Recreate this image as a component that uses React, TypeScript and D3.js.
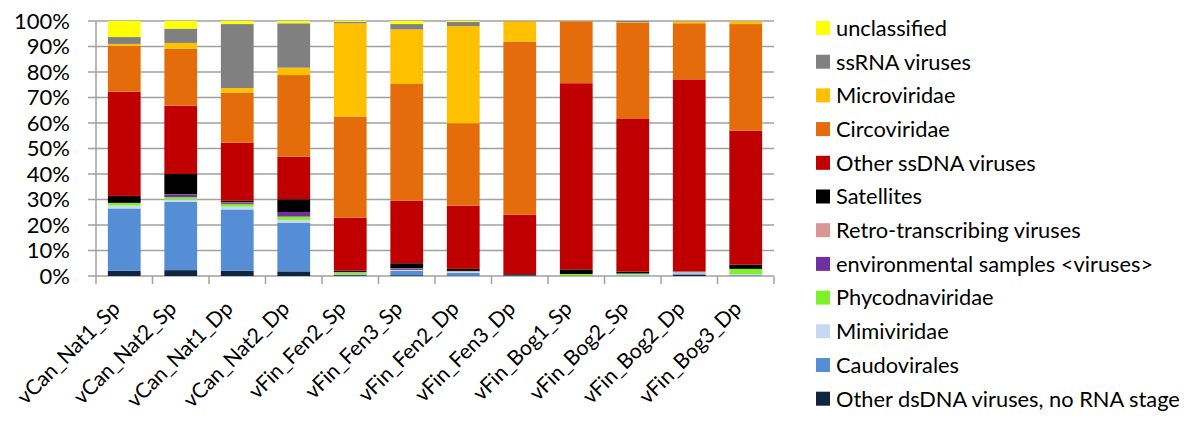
import React from "react";
import * as d3 from "d3";

const categories = [
  "vCan_Nat1_Sp", "vCan_Nat2_Sp", "vCan_Nat1_Dp", "vCan_Nat2_Dp",
  "vFin_Fen2_Sp", "vFin_Fen3_Sp", "vFin_Fen2_Dp", "vFin_Fen3_Dp",
  "vFin_Bog1_Sp", "vFin_Bog2_Sp", "vFin_Bog2_Dp", "vFin_Bog3_Dp",
];

// values in percent, bottom of stack first
const otherDsDNA = [2.1, 2.3, 2.1, 1.8, 0.3, 0.3, 0.2, 0.3, 0.1, 0.1, 0.5, 0.1];
const caudovirales = [24.4, 26.8, 24.0, 19.1, 0.3, 1.7, 1.0, 0.1, 0.1, 0.1, 0.5, 0.2];
const mimiviridae = [1.1, 0.9, 1.1, 1.1, 0.0, 0.3, 0.5, 0.0, 0.0, 0.3, 0.3, 0.4];
const phycodnaviridae = [1.0, 0.9, 1.0, 1.3, 0.8, 0.1, 0.1, 0.0, 0.6, 0.5, 0.1, 2.1];
const envSamples = [0.1, 1.0, 0.4, 1.8, 0.1, 0.4, 0.1, 0.0, 0.0, 0.0, 0.1, 0.0];
const retroTranscribing = [0.0, 0.1, 0.3, 0.0, 0.1, 0.2, 0.1, 0.0, 0.0, 0.0, 0.2, 0.0];
const satellites = [2.7, 8.0, 0.6, 5.0, 0.5, 2.0, 0.8, 0.3, 1.8, 0.7, 0.1, 1.7];
const otherSsDNA = [40.9, 26.8, 22.8, 16.7, 20.8, 24.5, 24.8, 23.3, 73.0, 60.1, 75.3, 52.5];
const circoviridae = [18.0, 22.3, 19.6, 32.0, 39.6, 45.8, 32.3, 67.9, 24.3, 37.5, 22.0, 41.8];
const microviridae = [0.7, 2.3, 1.8, 2.9, 36.6, 21.4, 38.1, 8.0, 0.1, 0.2, 0.8, 1.0];
const ssRNA = [2.7, 5.6, 25.1, 17.4, 0.5, 2.1, 1.6, 0.1, 0.0, 0.5, 0.1, 0.1];
const unclassified = [6.3, 3.0, 1.2, 0.9, 0.4, 1.2, 0.4, 0.0, 0.0, 0.0, 0.0, 0.1];

const seriesNames = [
  "Other dsDNA viruses, no RNA stage",
  "Caudovirales",
  "Mimiviridae",
  "Phycodnaviridae",
  "environmental samples <viruses>",
  "Retro-transcribing viruses",
  "Satellites",
  "Other ssDNA viruses",
  "Circoviridae",
  "Microviridae",
  "ssRNA viruses",
  "unclassified",
];
const seriesValues = [
  otherDsDNA, caudovirales, mimiviridae, phycodnaviridae, envSamples,
  retroTranscribing, satellites, otherSsDNA, circoviridae, microviridae,
  ssRNA, unclassified,
];
const seriesColors = [
  "#10253F", "#558ED5", "#C6D9F1", "#7FF02A", "#7030A0", "#D99694",
  "#000000", "#C00000", "#E46C0A", "#FFC000", "#808080", "#FFFF00",
];
const yTicks = [0, 0.1, 0.2, 0.3, 0.4, 0.5, 0.6, 0.7, 0.8, 0.9, 1.0];

const FONT = "Lato, 'Open Sans', sans-serif";

export default function App() {
  const W = 1186, H = 423;
  const left = 96, right = 774, top = 21, bottom = 276;

  const table = categories.map((c, i) => {
    const row: any = { category: c };
    seriesNames.forEach((s, j) => (row[s] = seriesValues[j][i]));
    return row;
  });
  const stacked = d3.stack<any>().keys(seriesNames).offset(d3.stackOffsetExpand)(table);

  const x = d3.scaleBand().domain(categories).range([left, right]).paddingInner(0.42).paddingOuter(0.21);
  const y = d3.scaleLinear().domain([0, 1]).range([bottom, top]);
  const step = x.step();
  const boundaries = d3.range(categories.length + 1).map((i) => left + i * step);

  const legendOrder = seriesNames.map((_, i) => seriesNames.length - 1 - i);

  return (
    <svg width={W} height={H} style={{ position: "absolute", left: 0, top: 0, background: "#fff" }} fontFamily={FONT}>
      {/* gridlines */}
      {yTicks.map((t) => (
        <line key={t} x1={left - 8} x2={right} y1={y(t)} y2={y(t)} stroke="#a0a0a0" strokeWidth={1.5} />
      ))}
      {/* y axis line */}
      <line x1={left} x2={left} y1={top} y2={bottom} stroke="#a0a0a0" strokeWidth={1.5} />
      {/* x ticks */}
      {boundaries.map((b, i) => (
        <line key={i} x1={b} x2={b} y1={bottom} y2={bottom + 8} stroke="#a0a0a0" strokeWidth={1.5} />
      ))}
      {/* bars */}
      {stacked.map((layer, j) => (
        <g key={layer.key} fill={seriesColors[j]}>
          {layer.map((d, i) => (
            <rect key={i} x={x(categories[i])} width={x.bandwidth()} y={y(d[1])} height={Math.max(0, y(d[0]) - y(d[1]))} />
          ))}
        </g>
      ))}
      {/* y labels */}
      {yTicks.map((t) => (
        <text key={t} x={70} y={y(t)} dy="0.36em" textAnchor="end" fontSize={22} fill="#000">
          {d3.format(".0%")(t)}
        </text>
      ))}
      {/* x labels */}
      {categories.map((c) => {
        const cx = (x(c) as number) + x.bandwidth() / 2 - 3;
        const cy = 310;
        return (
          <text key={c} x={cx} y={cy} textAnchor="end" fontSize={21} fill="#000" transform={`rotate(-45, ${cx}, ${cy})`}>
            {c}
          </text>
        );
      })}
      {/* legend */}
      {legendOrder.map((j, k) => {
        const cy = 28 + k * 33.7;
        return (
          <g key={seriesNames[j]}>
            <rect x={816} y={cy - 7} width={14} height={14} fill={seriesColors[j]} />
            <text x={836} y={cy} dy="0.36em" fontSize={21.8} fill="#000">{seriesNames[j]}</text>
          </g>
        );
      })}
    </svg>
  );
}
